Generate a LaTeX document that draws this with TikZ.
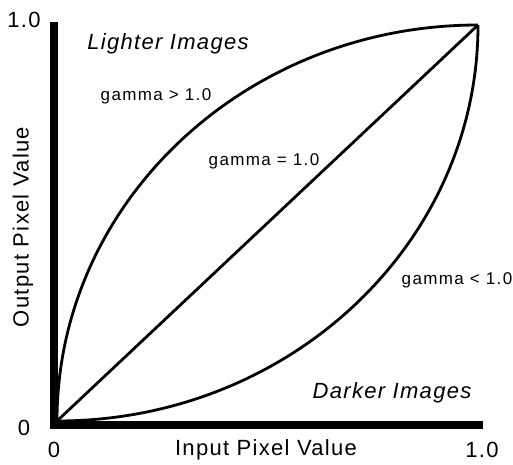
\documentclass[tikz,border=0pt]{standalone}
\usepackage{fontspec}
\setmainfont{Liberation Sans}
\newfontfamily\axisfont[LetterSpace=6]{Liberation Sans}
\newfontfamily\gammafont[LetterSpace=8]{Liberation Sans}
\begin{document}
\begin{tikzpicture}[x=1pt, y=1pt,
        lbl/.style={inner sep=0pt, font=\axisfont\fontsize{22}{26}\selectfont},
        glbl/.style={inner sep=0pt, font=\gammafont\fontsize{17}{20}\selectfont},
        curve/.style={line width=2.8pt}]
        \useasboundingbox (-57,-43) rectangle (456,421);

        \coordinate (O) at (0,0);
        \coordinate (P) at (421,396);
        \coordinate (Ytop) at (-3,399);
        \coordinate (C) at (-3,-4);
        \coordinate (Xend) at (426,-4);

        % axes
        \draw[line width=8pt] (Ytop) -- (C) -- (Xend);

        % gamma curves
        \draw[curve] (O) -- (P);
        \draw[curve] (O) arc[start angle=180, end angle=90, x radius=421, y radius=396];
        \draw[curve] (O) arc[start angle=270, end angle=360, x radius=421, y radius=396];

        \node[lbl] (Ymax) at (-33,401) {1.0};
        \node[lbl] (Yzero) at (-33,-7) {0};
        \node[lbl] (Xzero) at (-3,-29) {0};
        \node[lbl] (Xmax) at (425,-29) {1.0};
        \node[lbl] (Xlabel) at (209,-29) {Input Pixel Value};
        \node[lbl, rotate=90] (Ylabel) at (-34,194) {Output Pixel Value};
        \node[lbl] (Light) at (111,377) {\itshape Lighter Images};
        \node[lbl] (Dark) at (335,28) {\itshape Darker Images};
        \node[glbl] (Gup) at (99,325) {gamma > 1.0};
        \node[glbl] (Gone) at (207,260) {gamma = 1.0};
        \node[glbl] (Gdown) at (400,141) {gamma < 1.0};
    \end{tikzpicture}
\end{document}
